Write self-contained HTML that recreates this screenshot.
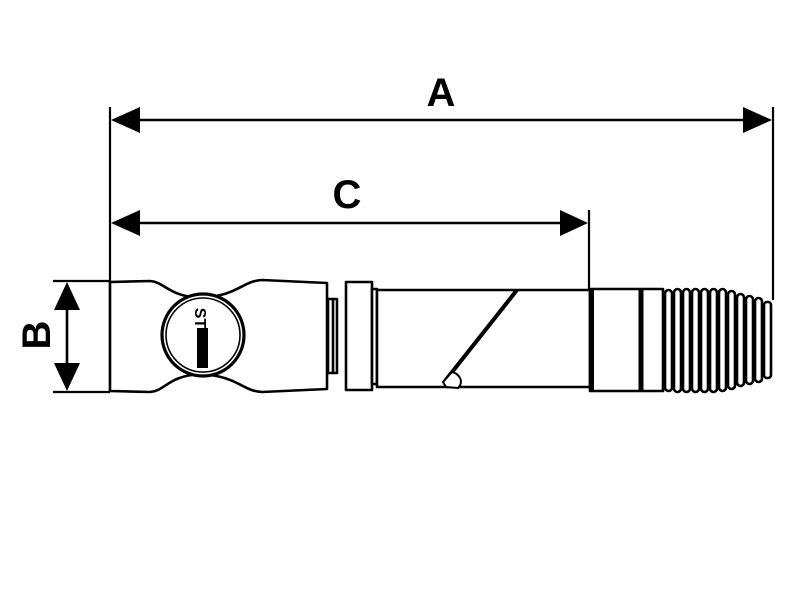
<!DOCTYPE html>
<html><head><style>html,body{margin:0;padding:0;background:#fff}svg{display:block}</style></head>
<body>
<svg width="800" height="600" viewBox="0 0 800 600" xmlns="http://www.w3.org/2000/svg">
<g stroke="#000" fill="none" stroke-width="2.2">
<line x1="110" y1="107" x2="110" y2="392"/>
<line x1="773" y1="107" x2="773" y2="300"/>
<line x1="589" y1="210" x2="589" y2="290"/>
<line x1="53" y1="281" x2="110" y2="281"/>
<line x1="53" y1="392" x2="110" y2="392"/>
<line x1="130" y1="120" x2="752" y2="120" stroke-width="2.6"/>
<line x1="130" y1="223" x2="568" y2="223" stroke-width="2.6"/>
<line x1="67" y1="300" x2="67" y2="372" stroke-width="2.6"/>
</g>
<g fill="#000">
<polygon points="111,120 140,107 140,133"/>
<polygon points="772,120 743,107 743,133"/>
<polygon points="111,223 140,210 140,236"/>
<polygon points="588,223 560,210 560,236"/>
<polygon points="67,282 54,310 80,310"/>
<polygon points="67,391 54,363 80,363"/>
</g>
<g font-family="Liberation Sans, sans-serif" font-weight="bold" font-size="40" fill="#000" text-anchor="middle">
<text x="441" y="106">A</text>
<text x="347" y="208">C</text>
<text transform="translate(50,335) rotate(-90)" x="0" y="0">B</text>
</g>
<g stroke="#000" fill="#fff" stroke-width="2.6" stroke-linejoin="round">
<path d="M110,282 L150,281 C165,282 168,296 200,298 C238,296 242,281 262,280 L327,283 L327,389 L262,392 C242,391 238,376 200,374 C168,376 165,391 150,392 L110,391 Z"/>
<circle cx="203" cy="335" r="41" stroke-width="3.2"/>
<circle cx="203" cy="335" r="37" stroke-width="1.6"/>
<rect x="328" y="299" width="9" height="74"/>
<line x1="333" y1="299" x2="333" y2="373"/>
<rect x="346" y="282" width="26" height="108"/>
<rect x="372" y="289" width="5" height="95"/>
<rect x="377" y="290" width="213" height="97"/>
<line x1="517" y1="290" x2="445" y2="381" stroke-width="4"/>
<path d="M443,382 L452,372 C460,374 464,382 458,388 L446,387 Z" stroke-width="2"/>
<rect x="590" y="289" width="73" height="102"/>
<line x1="592" y1="289" x2="592" y2="391" stroke-width="4"/>
<line x1="641" y1="289" x2="641" y2="391" stroke-width="5"/>
</g>
<g fill="#000">
<rect x="197" y="328" width="11" height="40"/>
<text transform="translate(195,318) rotate(90)" font-family="Liberation Sans, sans-serif" font-weight="bold" font-size="16" fill="#000" text-anchor="middle">ST</text>
</g>
<g stroke="#000" fill="#fff" stroke-width="2.6">
<rect x="665" y="290" width="7" height="101" rx="3.5"/>
<rect x="674" y="289" width="7" height="103" rx="3.5"/>
<rect x="683" y="289" width="7" height="103" rx="3.5"/>
<rect x="692" y="289" width="7" height="103" rx="3.5"/>
<rect x="701" y="289" width="7" height="103" rx="3.5"/>
<rect x="710" y="289" width="7" height="103" rx="3.5"/>
<rect x="719" y="289" width="7" height="102" rx="3.5"/>
<rect x="728" y="291" width="7" height="98" rx="3.5"/>
<rect x="737" y="294" width="7" height="92" rx="3.5"/>
<rect x="746" y="296" width="7" height="88" rx="3.5"/>
<rect x="755" y="298" width="7" height="84" rx="3.5"/>
<rect x="764" y="302" width="7" height="76" rx="3"/>
</g>
</svg>
</body></html>
